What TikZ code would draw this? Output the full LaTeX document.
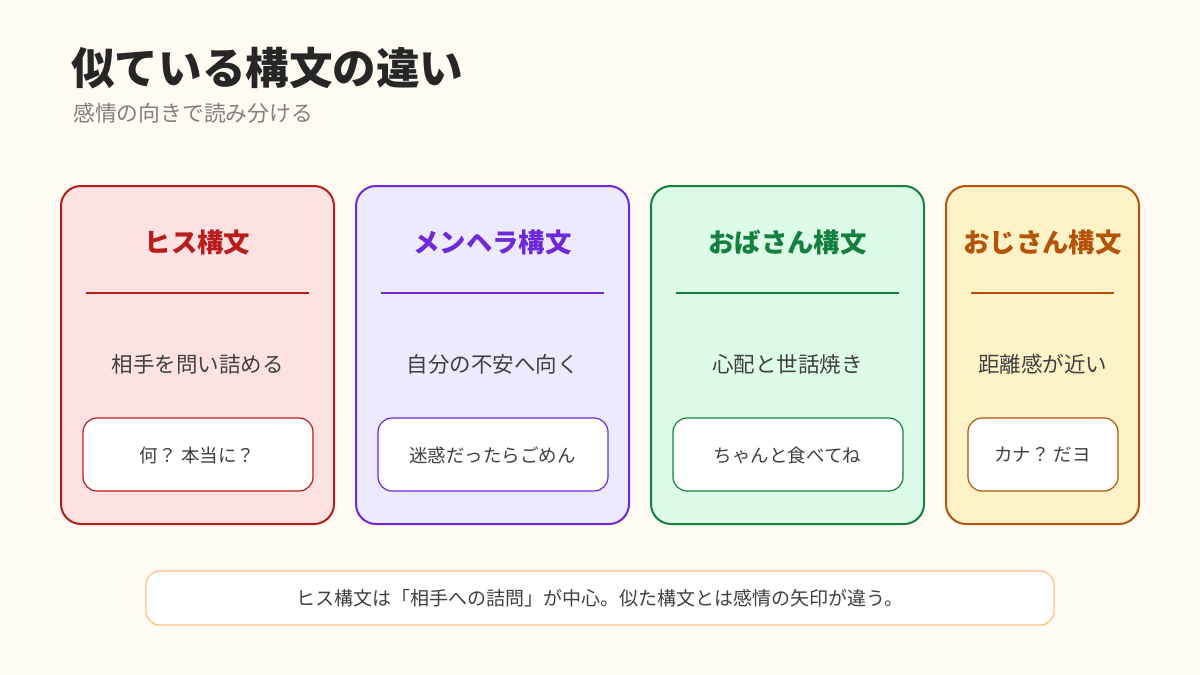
\documentclass[tikz,border=0pt]{standalone}
\usepackage{fontspec}
\setmainfont{Noto Sans CJK JP}
\begin{document}
\begin{tikzpicture}[x=1pt,y=-1pt,
  card/.style={draw, line width=2pt, rounded corners=20pt},
  inner/.style={draw, line width=1.2pt, fill=white, rounded corners=14pt},
  ttl/.style={font=\bfseries\fontsize{26.4}{30}\selectfont},
  desc/.style={font=\fontsize{21.5}{25}\selectfont, text=black!75},
  ex/.style={font=\fontsize{18.5}{22}\selectfont, text=black!75}]
\definecolor{bg}{HTML}{FFFBF3}
\definecolor{cR}{HTML}{B91C1C}\definecolor{fR}{HTML}{FEE2E2}
\definecolor{cP}{HTML}{6D28D9}\definecolor{fP}{HTML}{EDE9FE}
\definecolor{cG}{HTML}{15803D}\definecolor{fG}{HTML}{DCFCE7}
\definecolor{cO}{HTML}{B45309}\definecolor{fO}{HTML}{FEF3C7}
\useasboundingbox (0,0) rectangle (1200,675);
\fill[bg] (0,0) rectangle (1200,675);
\node[anchor=west, font=\bfseries\fontsize{43.6}{50}\selectfont, text=black!85, inner sep=0pt] (title) at (71,68) {似ている構文の違い};
\node[anchor=west, font=\fontsize{21.8}{25}\selectfont, text=black!50, inner sep=0pt] (sub) at (73,113) {感情の向きで読み分ける};
\foreach \i/\xa/\xb/\c/\f/\t/\d/\e in {
 1/61/334/cR/fR/ヒス構文/相手を問い詰める/何？ 本当に？,
 2/356/629/cP/fP/メンヘラ構文/自分の不安へ向く/迷惑だったらごめん,
 3/651/924/cG/fG/おばさん構文/心配と世話焼き/ちゃんと食べてね,
 4/946/1139/cO/fO/おじさん構文/距離感が近い/カナ？ だヨ}{
  \draw[card, draw=\c, fill=\f] (\xa,186) rectangle (\xb,524);
  \node[ttl, text=\c] (t\i) at ({(\xa+\xb)/2},243) {\t};
  \draw[\c, line width=2pt] ({\xa+25},293) -- ({\xb-25},293);
  \node[desc] (d\i) at ({(\xa+\xb)/2},364) {\d};
  \draw[inner, draw=\c] ({\xa+22},418) rectangle ({\xb-21},491);
  \node[ex] (e\i) at ({(\xa+\xb)/2},455) {\e};
}
\draw[draw=orange!50, line width=1.2pt, fill=white, rounded corners=14pt] (146,571) rectangle (1054,625);
\node[font=\fontsize{19}{22}\selectfont, text=black!75] (note) at (600,598) {ヒス構文は「相手への詰問」が中心。似た構文とは感情の矢印が違う。};
\end{tikzpicture}
\end{document}
